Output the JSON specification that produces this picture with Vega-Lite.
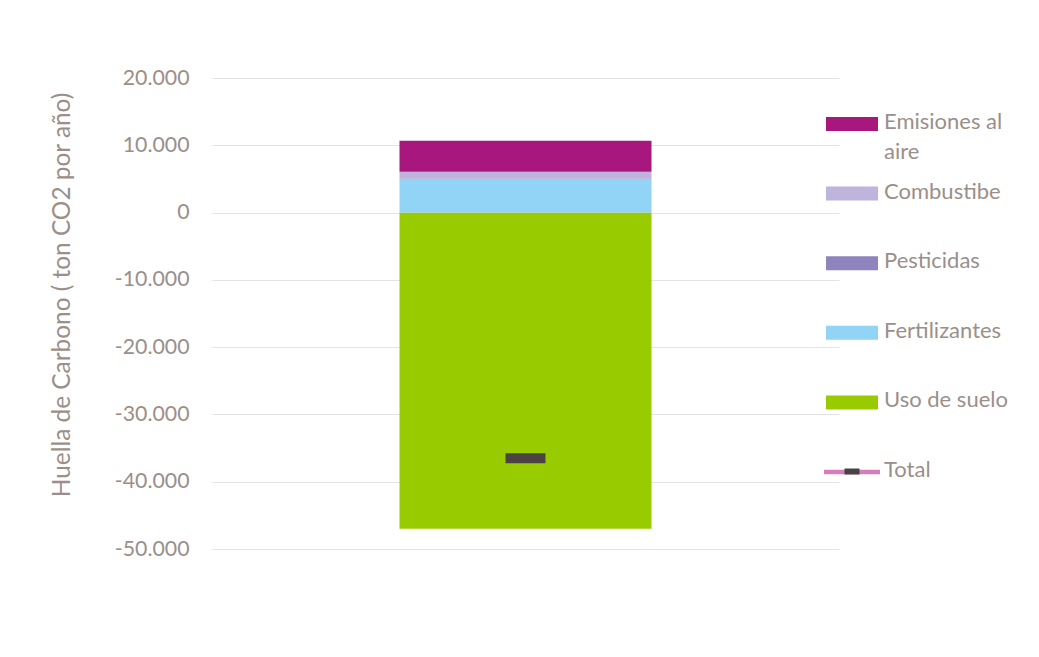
{
  "$schema": "https://vega.github.io/schema/vega-lite/v6.json",
  "width": 627,
  "height": 471,
  "autosize": {"type": "none"},
  "padding": {"left": 212, "top": 78, "right": 200, "bottom": 108},
  "background": "white",
  "config": {"view": {"stroke": null}, "font": "Lato"},
  "data": {
    "values": [
      {"cat": "A", "serie": "Uso de suelo", "valor": -47000, "orden": 0, "marker": "Total"},
      {"cat": "A", "serie": "Fertilizantes", "valor": 5000, "orden": 1, "marker": "Total"},
      {"cat": "A", "serie": "Pesticidas", "valor": 60, "orden": 2, "marker": "Total"},
      {"cat": "A", "serie": "Combustibe", "valor": 1000, "orden": 3, "marker": "Total"},
      {"cat": "A", "serie": "Emisiones al aire", "valor": 4600, "orden": 4, "marker": "Total"},
      {"cat": "A", "serie": "Total", "valor": -36500, "orden": 5, "marker": "Total"}
    ]
  },
  "encoding": {"x": {"field": "cat", "type": "nominal", "axis": null}},
  "layer": [
    {
      "transform": [{"filter": "datum.serie !== 'Total'"}],
      "mark": {"type": "bar", "size": 252},
      "encoding": {
        "y": {
          "field": "valor",
          "type": "quantitative",
          "stack": "zero",
          "scale": {"domain": [-50000, 20000], "nice": false},
          "axis": {
            "values": [-50000, -40000, -30000, -20000, -10000, 0, 10000, 20000],
            "labelExpr": "replace(replace(format(datum.value, ','), /,/g, '.'), /\u2212/g, '-')",
            "title": "Huella de Carbono ( ton CO2 por año)",
            "grid": true,
            "gridColor": "#e3e3e3",
            "gridWidth": 1,
            "domain": false,
            "ticks": false,
            "labelPadding": 23,
            "labelFontSize": 21.3,
            "labelFont": "Lato",
            "labelColor": "#9a8f8a",
            "titleFont": "Lato",
            "titleFontSize": 24.4,
            "titleFontWeight": "normal",
            "titleColor": "#9a8f8a",
            "titleAngle": -90,
            "titleX": -150,
            "titleY": 216.5,
            "titleAlign": "center",
            "titleBaseline": "middle"
          }
        },
        "color": {
          "field": "serie",
          "type": "nominal",
          "scale": {
            "domain": ["Emisiones al aire", "Combustibe", "Pesticidas", "Fertilizantes", "Uso de suelo", "Total"],
            "range": ["#a7177e", "#bfb4dc", "#8f84bd", "#92d4f5", "#99cc00", "#d47fbc"]
          },
          "legend": {
            "orient": "none",
            "legendX": 614,
            "legendY": 20,
            "title": null,
            "padding": 0,
            "symbolSize": 2704,
            "symbolType": "M-1,-0.27H1V0.27H-1Z",
            "symbolStrokeWidth": 0,
            "symbolOpacity": 1,
            "labelFont": "Lato",
            "labelFontSize": 22,
            "labelColor": "#9a8f8a",
            "labelOffset": 6,
            "labelLimit": 200,
            "rowPadding": 4.6,
            "labelBaseline": "top",
            "labelExpr": "datum.label === 'Emisiones al aire' ? ['Emisiones al', 'aire'] : [datum.label, '']",
            "encode": {
              "labels": {"update": {"dy": {"value": -12}, "lineHeight": {"value": 30}}},
              "symbols": {"update": {"shape": {"signal": "datum.value === 'Total' ? 'M-1.077,-0.09H1.077V0.09H-1.077Z' : 'M-1,-0.27H1V0.27H-1Z'"}}}
            }
          }
        },
        "order": {"field": "orden", "type": "quantitative"}
      }
    },
    {
      "transform": [{"filter": "datum.serie === 'Total'"}],
      "mark": {"type": "tick", "size": 40, "thickness": 10, "color": "#4b4343", "opacity": 1},
      "encoding": {
        "y": {"field": "valor", "type": "quantitative"},
        "opacity": {
          "field": "marker",
          "type": "ordinal",
          "scale": {"range": [1, 1]},
          "legend": {
            "orient": "none",
            "legendX": 632.5,
            "legendY": 386,
            "title": null,
            "padding": 0,
            "symbolSize": 225,
            "symbolType": "M-1,-0.4H1V0.4H-1Z",
            "symbolFillColor": "#4b4343",
            "symbolStrokeWidth": 0,
            "labelExpr": "''",
            "labelFontSize": 1
          }
        }
      }
    }
  ]
}
